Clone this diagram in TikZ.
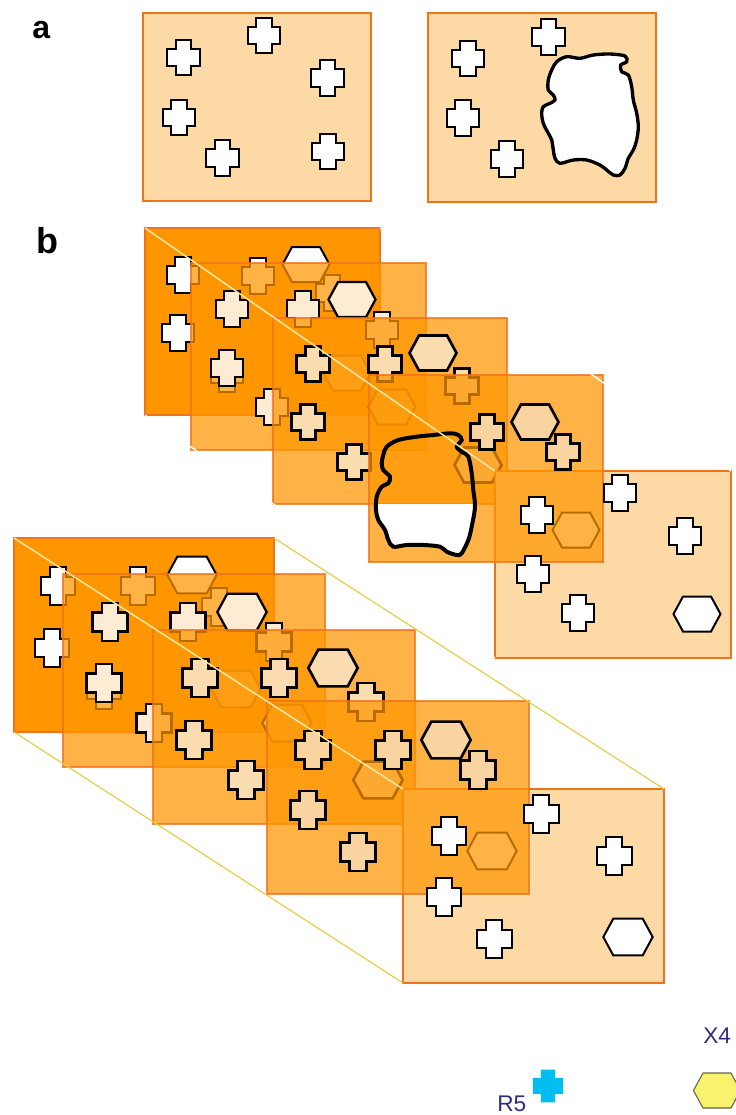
\documentclass[tikz,border=0pt]{standalone}
\usepackage{fontspec}
\setmainfont{Liberation Sans}
\definecolor{boxor}{RGB}{255,150,0}
\definecolor{boxedge}{RGB}{240,115,25}
\definecolor{lightbox}{RGB}{253,217,166}
\definecolor{peachA}{RGB}{253,235,212}
\definecolor{peachB}{RGB}{251,220,176}
\definecolor{peachC}{RGB}{250,212,160}
\definecolor{lineY}{RGB}{232,206,70}
\definecolor{lineP}{RGB}{250,232,165}
\definecolor{legtxt}{RGB}{45,45,130}
\definecolor{cyanc}{RGB}{0,190,240}
\definecolor{yelh}{RGB}{248,242,110}
\definecolor{hexedge}{RGB}{100,100,70}
\tikzset{
  crs/.pic={\path[pic actions] (-7.7,-17.7) -- (7.7,-17.7) -- (7.7,-8.7) -- (16.2,-8.7) -- (16.2,8.7) -- (7.7,8.7) -- (7.7,17.7) -- (-7.7,17.7) -- (-7.7,8.7) -- (-16.2,8.7) -- (-16.2,-8.7) -- (-7.7,-8.7) -- cycle;},
  hex/.pic={\path[pic actions] (-23.5,0) -- (-14,-17.5) -- (14,-17.5) -- (23.5,0) -- (14,17.5) -- (-14,17.5) -- cycle;},
  itw/.style={fill=white, draw=black, line width=1.5pt},
  it2/.style={fill=peachA, draw=black, line width=1.7pt},
  it3/.style={fill=peachB, draw=black, line width=2pt},
  it4/.style={fill=peachC, draw=black, line width=2pt},
  solidbox/.style={fill=boxor, draw=boxedge, line width=0.8pt},
  tbox/.style={fill=boxor, fill opacity=0.72, draw=boxedge, draw opacity=0.8, line width=0.8pt},
  frontbox/.style={fill=lightbox, draw=boxedge, line width=1.6pt},
  abox/.style={fill=lightbox, draw=boxedge, line width=1.2pt},
  paleline/.style={draw=lineP, line width=1.1pt},
  whiteline/.style={draw=white, line width=1.1pt},
  yline/.style={draw=lineY, line width=0.9pt},
  lbl/.style={anchor=base west, inner sep=0pt},
  leg/.style={anchor=base west, inner sep=0pt, text=legtxt, font=\fontsize{17}{17}\selectfont},
}
\begin{document}
\begin{tikzpicture}[x=0.75pt,y=-0.75pt, line join=miter]
\useasboundingbox (0,0) rectangle (736,1115);
\fill[white] (0,0) rectangle (736,1115);

% ---------------- panel a ----------------
\node[lbl, font=\fontsize{24}{24}\selectfont\bfseries] (lbla) at (32,38) {a};
\path[abox] (143,13) rectangle (371,201);
\pic[itw] at (183.5,57.5) {crs};
\pic[itw] at (264,35.5) {crs};
\pic[itw] at (327.5,78) {crs};
\pic[itw] at (179,117.5) {crs};
\pic[itw] at (222.5,158) {crs};
\pic[itw] at (328,151.5) {crs};

\path[abox] (428,13) rectangle (656,202);
\pic[itw] at (468,58.5) {crs};
\pic[itw] at (548.5,37) {crs};
\pic[itw] at (463,118) {crs};
\pic[itw] at (507,159) {crs};
\draw[fill=white, draw=black, line width=2.5pt] plot[smooth cycle, tension=0.55] coordinates {
 (556.7,61.7) (566.7,56.7) (580,58.3) (593.3,55) (610,54) (625,56) (626.7,61.7) (620.7,65)
 (621.7,71.7) (628.3,75) (631.7,86.7) (633.3,100) (636.7,113.3) (638.3,126.7) (636.7,140)
 (633.3,150) (628.3,158.3) (625,168.3) (620,175) (613.3,175) (606.7,170) (600,165) (586.7,160)
 (573.3,160) (560,163.3) (555,158.3) (553.3,150) (551.7,140) (548.3,133.3) (543.3,123.3)
 (541.7,113.3) (543.3,106.7) (550,103.3) (555,100) (553.3,95) (548.3,90) (548.3,80) (551.7,70)};

% ---------------- panel b ----------------
\node[lbl, font=\fontsize{27}{27}\selectfont\bfseries] (lblb) at (36,253) {b};

% ===== upper stack =====
\coordinate (u1tl) at (145,228); \coordinate (u1tr) at (380,228); \coordinate (u1bl) at (145,415);
\coordinate (u5tl) at (495,471); \coordinate (u5tr) at (731,471); \coordinate (u5bl) at (495,658);
% layer 1
\path[solidbox] (145,228) rectangle (380,415);
\pic[itw] at (183,275) {crs};
\pic[itw] at (178,333) {crs};
\pic[itw] at (258,276) {crs};
\pic[itw] at (306,264.5) {hex};
\pic[itw] at (332,293) {crs};
\pic[itw] at (347,373) {hex};
\pic[itw] at (227,374) {crs};
% layer 2
\path[tbox] (191,263) rectangle (426,450);
\pic[it2] at (232,309) {crs};
\pic[it2] at (303,309) {crs};
\pic[it2] at (352,299.5) {hex};
\pic[it2] at (382,330) {crs};
\pic[it2] at (227,368) {crs};
\pic[it2] at (272,407) {crs};
\pic[it2] at (392,407) {hex};
% layer 3
\path[tbox] (273,318) rectangle (507,504);
\pic[it3] at (313,364) {crs};
\pic[it3] at (385,364) {crs};
\pic[it3] at (433,353) {hex};
\pic[it3] at (308,422) {crs};
\pic[it3] at (354,462) {crs};
\pic[it3] at (462,386) {crs};
\pic[it3] at (478,465) {hex};
% front box and its hidden hexagon
\path[frontbox] (495,471) rectangle (731,658);
\pic[itw] at (576,530) {hex};
% layer 4
\path[tbox] (369,375) rectangle (603,562);
\begin{scope}
\clip (360,504) rectangle (490,570);
\fill[white] plot[smooth cycle, tension=0.55] coordinates {
 (386.7,446.7) (398.3,440) (416.7,436.7) (433.3,435) (450,433.3) (458.3,435) (461.7,440)
 (456.7,446.7) (461.7,451.7) (468.3,456.7) (471.7,473.3) (473.3,490) (475,506.7) (471.7,526.7)
 (468.3,540) (461.7,553.3) (456.7,555) (446.7,551.7) (440,546.7) (423.3,545) (406.7,545)
 (393.3,546.7) (388.3,540) (385,530) (378.3,520) (376,510) (376.7,496.7) (381.7,486.7)
 (388.3,483.3) (390,476.7) (383.3,470) (381.7,463.3) (383.3,455)};
\end{scope}
\draw[black, line width=3pt] plot[smooth cycle, tension=0.55] coordinates {
 (386.7,446.7) (398.3,440) (416.7,436.7) (433.3,435) (450,433.3) (458.3,435) (461.7,440)
 (456.7,446.7) (461.7,451.7) (468.3,456.7) (471.7,473.3) (473.3,490) (475,506.7) (471.7,526.7)
 (468.3,540) (461.7,553.3) (456.7,555) (446.7,551.7) (440,546.7) (423.3,545) (406.7,545)
 (393.3,546.7) (388.3,540) (385,530) (378.3,520) (376,510) (376.7,496.7) (381.7,486.7)
 (388.3,483.3) (390,476.7) (383.3,470) (381.7,463.3) (383.3,455)};
\pic[it4] at (487,432) {crs};
\pic[it4] at (535,422) {hex};
\pic[it4] at (563,452) {crs};
% layer 5 items
\pic[itw] at (537,515) {crs};
\pic[itw] at (620,493) {crs};
\pic[itw] at (685,536) {crs};
\pic[itw] at (533,574) {crs};
\pic[itw] at (578,613) {crs};
\pic[itw] at (697,614) {hex};
% connector lines
\draw[paleline] (u1tl) -- (u5tl);
\draw[whiteline] (u1tr) -- (u5tr);
\draw[whiteline] (u1bl) -- (u5bl);

% ===== lower stack =====
\coordinate (l1tl) at (14,538); \coordinate (l1tr) at (274,538); \coordinate (l1bl) at (14,732);
\coordinate (l5tl) at (403,789); \coordinate (l5tr) at (664,789); \coordinate (l5bl) at (403,983);
% layer 1
\path[solidbox] (14,538) rectangle (274,732);
\pic[itw, scale=1.08] at (58,586) {crs};
\pic[itw, scale=1.08] at (52,648) {crs};
\pic[itw, scale=1.08] at (138,586) {crs};
\pic[itw, scale=1.05] at (192,575) {hex};
\pic[itw, scale=1.08] at (219,607) {crs};
\pic[itw, scale=1.05] at (236,689) {hex};
\pic[itw, scale=1.08] at (104,690) {crs};
% layer 2
\path[tbox] (63,574) rectangle (325,767);
\pic[it2, scale=1.08] at (110,622) {crs};
\pic[it2, scale=1.08] at (188,622) {crs};
\pic[it2, scale=1.05] at (242,612) {hex};
\pic[it2, scale=1.08] at (104,683) {crs};
\pic[it2, scale=1.08] at (154,723) {crs};
\pic[it2, scale=1.08] at (274,642) {crs};
\pic[it2, scale=1.05] at (287,723) {hex};
% layer 3
\path[tbox] (153,630) rectangle (415,824);
\pic[it3, scale=1.08] at (200,678) {crs};
\pic[it3, scale=1.08] at (279,678) {crs};
\pic[it3, scale=1.05] at (333,668) {hex};
\pic[it3, scale=1.08] at (194,740) {crs};
\pic[it3, scale=1.08] at (246,780) {crs};
\pic[it3, scale=1.08] at (366,702) {crs};
\pic[it3, scale=1.05] at (378,780) {hex};
% front box and hidden hexagon
\path[frontbox] (403,789) rectangle (664,983);
\pic[itw, scale=1.05] at (492,851) {hex};
% layer 4
\path[tbox] (267,701) rectangle (529,894);
\pic[it4, scale=1.08] at (313,750) {crs};
\pic[it4, scale=1.08] at (393,750) {crs};
\pic[it4, scale=1.05] at (446,740) {hex};
\pic[it4, scale=1.08] at (478,770) {crs};
\pic[it4, scale=1.08] at (308,810) {crs};
\pic[it4, scale=1.08] at (358,852) {crs};
% layer 5 items
\pic[itw, scale=1.08] at (541,814) {crs};
\pic[itw, scale=1.08] at (449,836) {crs};
\pic[itw, scale=1.08] at (614,856) {crs};
\pic[itw, scale=1.08] at (444,897) {crs};
\pic[itw, scale=1.08] at (494,939) {crs};
\pic[itw, scale=1.05] at (628,937) {hex};
% connector lines
\draw[paleline] (l1tl) -- (l5tl);
\draw[yline] (l1tr) -- (l5tr);
\draw[yline] (l1bl) -- (l5bl);

% ---------------- legend ----------------
\node[leg] (x4) at (703,1043) {X4};
\node[leg] (r5) at (497,1111) {R5};
\pic[fill=cyanc, scale=0.93] at (548,1086) {crs};
\pic[fill=yelh, draw=hexedge, line width=0.8pt] at (717,1090.5) {hex};
\end{tikzpicture}
\end{document}
